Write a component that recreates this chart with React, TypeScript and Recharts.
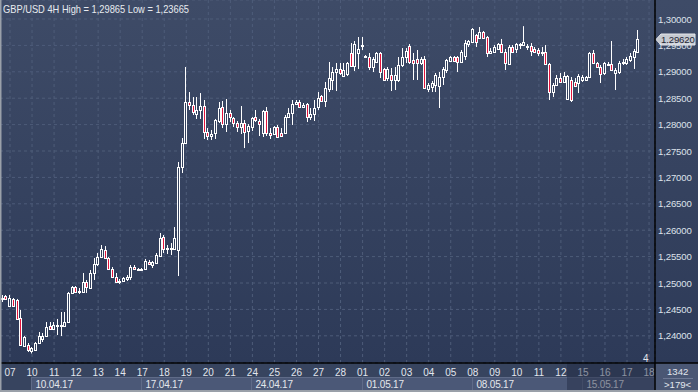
import React from 'react';
import { ComposedChart, Bar, XAxis, YAxis, CartesianGrid, ReferenceLine } from 'recharts';

const OPEN = [1.24716,1.24754,1.24564,1.24698,1.24678,1.24337,1.23807,1.23826,1.23712,1.23731,1.23864,1.2394,1.23996,1.24185,1.24129,1.24185,1.24185,1.24185,1.24261,1.24811,1.24924,1.2483,1.2483,1.25019,1.24905,1.25189,1.2536,1.25492,1.25625,1.25473,1.25266,1.25113,1.25019,1.25038,1.25076,1.25113,1.25303,1.25266,1.25246,1.25266,1.25398,1.25341,1.25379,1.25511,1.25871,1.25644,1.25662,1.25644,1.25625,1.27197,1.27651,1.28428,1.28371,1.28201,1.28277,1.28352,1.2786,1.27784,1.27841,1.28068,1.28333,1.28011,1.2822,1.28125,1.2803,1.27954,1.2803,1.27879,1.27954,1.28144,1.28068,1.27841,1.28258,1.27841,1.27822,1.27954,1.27841,1.27841,1.28144,1.2822,1.2839,1.28428,1.28333,1.2839,1.28144,1.28201,1.28333,1.28541,1.28447,1.28675,1.28845,1.28996,1.29054,1.2892,1.28958,1.29356,1.2911,1.29356,1.29507,1.29299,1.2928,1.29091,1.29186,1.29356,1.29054,1.28882,1.28939,1.28845,1.28845,1.29129,1.2928,1.29488,1.29224,1.29243,1.29167,1.29243,1.28675,1.28712,1.2875,1.28731,1.28901,1.29034,1.29205,1.2928,1.2928,1.29186,1.29299,1.29526,1.29564,1.29697,1.2964,1.29754,1.29659,1.29356,1.29375,1.29432,1.29526,1.29375,1.29148,1.2947,1.29432,1.29526,1.29507,1.29488,1.29488,1.29432,1.29413,1.29356,1.29375,1.29148,1.28617,1.2875,1.28882,1.28807,1.28485,1.28845,1.28807,1.28788,1.28845,1.28845,1.28901,1.29356,1.29167,1.29091,1.28977,1.29129,1.29148,1.28977,1.28996,1.29167,1.29167,1.29224,1.2928,1.29375];
const HIGH = [1.24773,1.24773,1.24773,1.24716,1.24698,1.24489,1.23996,1.23864,1.23788,1.23883,1.24072,1.24053,1.24261,1.24261,1.24261,1.24319,1.24451,1.24451,1.2483,1.24943,1.24943,1.24905,1.25189,1.25057,1.25246,1.25473,1.25568,1.25719,1.257,1.25492,1.25303,1.25189,1.25076,1.25113,1.25151,1.25341,1.25341,1.25284,1.25284,1.25455,1.25436,1.25417,1.25568,1.25947,1.25909,1.25719,1.25757,1.2606,1.27292,1.27746,1.29091,1.28617,1.28522,1.28522,1.28598,1.28466,1.27935,1.27898,1.28107,1.28428,1.28447,1.28485,1.28277,1.28144,1.28068,1.28352,1.28087,1.28011,1.28144,1.28277,1.28107,1.28277,1.28333,1.27935,1.27973,1.27993,1.27935,1.28182,1.28314,1.28466,1.28466,1.28466,1.28409,1.28409,1.28314,1.28466,1.28617,1.2856,1.28807,1.29186,1.29091,1.29167,1.29167,1.29167,1.29186,1.29545,1.29583,1.29659,1.29659,1.29318,1.29356,1.2928,1.29375,1.29375,1.29072,1.29091,1.29072,1.29091,1.2928,1.2945,1.2945,1.29526,1.29356,1.29413,1.2928,1.29299,1.28788,1.28826,1.28977,1.28996,1.29091,1.29243,1.29299,1.29299,1.29299,1.29413,1.29602,1.29602,1.29829,1.29716,1.29848,1.29773,1.29678,1.2945,1.29507,1.29545,1.29622,1.29432,1.29507,1.29507,1.29545,1.29545,1.29865,1.29526,1.29545,1.2947,1.2945,1.2947,1.29507,1.29167,1.28788,1.28939,1.28977,1.28996,1.28939,1.28901,1.28882,1.28958,1.28939,1.2892,1.29375,1.29413,1.29186,1.29129,1.29186,1.29186,1.29583,1.29072,1.29205,1.29243,1.2928,1.29356,1.29432,1.29792];
const LOW = [1.2464,1.24678,1.24545,1.24545,1.24299,1.23807,1.23788,1.23693,1.23665,1.23712,1.23845,1.23883,1.23977,1.2411,1.2411,1.24015,1.23996,1.24166,1.24242,1.24792,1.24811,1.24792,1.24811,1.24811,1.24887,1.25057,1.25322,1.25473,1.25455,1.25246,1.25094,1.25,1.24981,1.25019,1.25038,1.25057,1.25246,1.25227,1.25227,1.25284,1.25341,1.25284,1.2536,1.25492,1.25568,1.25549,1.2553,1.25625,1.25132,1.27083,1.27632,1.28277,1.28182,1.28107,1.28107,1.27728,1.27708,1.27708,1.27728,1.2803,1.27935,1.2786,1.28049,1.27954,1.2786,1.27822,1.27556,1.27651,1.27879,1.28049,1.27784,1.27765,1.27784,1.27728,1.27803,1.27746,1.27765,1.27822,1.28125,1.27993,1.28371,1.28314,1.28314,1.28049,1.28087,1.28068,1.28277,1.28428,1.28333,1.28617,1.28655,1.28636,1.28939,1.28901,1.2892,1.29091,1.29015,1.29054,1.29413,1.29261,1.29034,1.28996,1.29167,1.28882,1.28826,1.28826,1.28636,1.28655,1.28807,1.29091,1.29167,1.29148,1.28845,1.28845,1.29129,1.28675,1.28617,1.28617,1.28617,1.28314,1.2875,1.28977,1.29186,1.29186,1.28996,1.29167,1.29224,1.2947,1.29545,1.2947,1.29622,1.29622,1.2928,1.29337,1.29356,1.29413,1.29356,1.29034,1.29129,1.29356,1.29356,1.29432,1.29488,1.29413,1.29299,1.29356,1.29299,1.29299,1.29129,1.28466,1.28522,1.28731,1.28788,1.28788,1.28466,1.28428,1.28712,1.28598,1.28807,1.28826,1.28882,1.29148,1.29072,1.28788,1.28939,1.2911,1.29015,1.28655,1.28958,1.29129,1.29129,1.29186,1.29054,1.29356];
const CLOSE = [1.24698,1.24698,1.24716,1.24564,1.24319,1.23826,1.23977,1.23731,1.23769,1.23864,1.23996,1.23996,1.24166,1.24129,1.24204,1.24204,1.24204,1.24261,1.24811,1.24924,1.2483,1.24849,1.25019,1.24924,1.25189,1.2536,1.25492,1.25644,1.25473,1.25266,1.25113,1.25019,1.25038,1.25094,1.25113,1.25303,1.25266,1.25246,1.25266,1.25417,1.2536,1.25398,1.2553,1.25852,1.25644,1.25662,1.25644,1.25852,1.27197,1.27651,1.28428,1.28371,1.28239,1.28277,1.28352,1.2786,1.27784,1.27822,1.28087,1.28314,1.28011,1.2822,1.28144,1.2803,1.27954,1.2803,1.2786,1.27973,1.28125,1.28087,1.28011,1.28258,1.27841,1.27803,1.27954,1.27765,1.27784,1.28144,1.2822,1.2839,1.28428,1.28333,1.28371,1.28144,1.28201,1.28314,1.28503,1.28447,1.28693,1.28882,1.28996,1.29054,1.28977,1.29034,1.29167,1.2911,1.29526,1.29432,1.29488,1.2928,1.29091,1.29243,1.29356,1.28996,1.28845,1.29054,1.28845,1.28939,1.29129,1.2928,1.29394,1.29186,1.29167,1.29167,1.29243,1.28693,1.2875,1.28788,1.28939,1.28901,1.29054,1.29224,1.2928,1.29205,1.29186,1.29375,1.29545,1.29583,1.29811,1.29564,1.29754,1.2964,1.29356,1.29394,1.2947,1.29526,1.29375,1.29167,1.2947,1.29375,1.29526,1.29507,1.29564,1.2947,1.29394,1.29375,1.29356,1.29375,1.29148,1.28617,1.2875,1.28882,1.28807,1.2892,1.2892,1.28466,1.28731,1.2892,1.28901,1.28901,1.29356,1.29167,1.29091,1.28958,1.29167,1.29148,1.29034,1.29034,1.29167,1.29186,1.29243,1.29299,1.29394,1.2962];

const DAY_LABELS = ['07','10','11','12','13','14','17','18','19','20','21','24','25','26','27','28','01','02','03','04','05','08','09','10','11','12','15','16','17','18'];
const DAY_START = [2,8,14,20,26,32,38,44,50,56,62,68,74,80,86,92,98,104,110,116,122,128,134,140,146,152,158,164,170,176];
const WEEK_LABELS = ['10.04.17','17.04.17','24.04.17','01.05.17','08.05.17','15.05.17'];
const WEEK_START = [8,38,68,98,128,158];
const PRICE_TICKS = [1.24,1.245,1.25,1.255,1.26,1.265,1.27,1.275,1.28,1.285,1.29,1.295,1.3];
const LAST_PRICE = 1.2962;
const TITLE = 'GBP/USD 4H High = 1,29865 Low = 1,23665';

const W = 698, H = 392, PLOT_W = 655, PLOT_H = 363;
const X_DOMAIN: [number, number] = [-0.723, 177.62];
const Y_DOMAIN: [number, number] = [1.23485, 1.3036];
const SLOT = PLOT_W / (X_DOMAIN[1] - X_DOMAIN[0]);
const FONT = '"Liberation Sans", Arial, sans-serif';
const BULL_FILL = '#34415d';
const BEAR_FILL = '#e3143c';

const data = OPEN.map((o, i) => ({ i, open: o, high: HIGH[i], low: LOW[i], close: CLOSE[i] }));
const fmt = (v: number) => v.toFixed(5).replace('.', ',');

const Candle = (props: any) => {
  const { x, y, width, height, payload } = props;
  if (!payload) return null;
  const { open, close, high, low } = payload;
  const top = Math.min(y, y + height);
  const bot = Math.max(y, y + height);
  const span = high - low;
  const toY = (p: number) => (span === 0 ? top : top + ((high - p) / span) * (bot - top));
  const cx = Math.floor(x + width / 2) + 0.5;
  const yo = toY(open), yc = toY(close);
  const bTop = Math.round(Math.min(yo, yc));
  const bBot = Math.round(Math.max(yo, yc));
  const bull = close >= open;
  return (
    <g>
      <line x1={cx} x2={cx} y1={toY(high)} y2={bTop} stroke="#ffffff" strokeWidth={1} />
      <line x1={cx} x2={cx} y1={bBot} y2={toY(low)} stroke="#ffffff" strokeWidth={1} />
      {bBot - bTop < 1 ? (
        <line x1={cx - 1.5} x2={cx + 1.5} y1={bTop + 0.5} y2={bTop + 0.5} stroke="#ffffff" strokeWidth={1} />
      ) : (
        <rect x={cx - 1} y={bTop + 0.5} width={2} height={bBot - bTop} fill={bull ? BULL_FILL : BEAR_FILL} stroke="#ffffff" strokeWidth={1} />
      )}
    </g>
  );
};

const XTick = (props: any) => {
  const { x, y, payload } = props;
  const idx = payload.value;
  const k = DAY_START.indexOf(idx);
  const w = WEEK_START.indexOf(idx);
  let week = null;
  if (w >= 0) {
    const end = w + 1 < WEEK_START.length ? x + (WEEK_START[w + 1] - idx) * SLOT : PLOT_W;
    const x0 = Math.round(x) - 0.5;
    week = (
      <g>
        <rect x={x0} y={y + 14.5} width={Math.round(end) - Math.round(x)} height={13} fill="#4b5877" stroke="#5f6b88" strokeWidth={1} />
        <text x={x0 + 4} y={y + 25} fill="#e4e7ec" fontSize={10} fontFamily={FONT} style={{ letterSpacing: '-0.2px' }}>{WEEK_LABELS[w]}</text>
      </g>
    );
  }
  return (
    <g>
      {week}
      <text x={x} y={y + 12.5} textAnchor="middle" fill="#e2e6ee" fontSize={10} fontFamily={FONT}>{k >= 0 ? DAY_LABELS[k] : ''}</text>
    </g>
  );
};

const YTick = (props: any) => {
  const { x, y, payload } = props;
  return (
    <text x={x} y={y} dy={3.5} fill="#dde2ea" fontSize={9.6} fontFamily={FONT} style={{ letterSpacing: '-0.15px' }}>{fmt(payload.value)}</text>
  );
};

const PriceMarker = (props: any) => {
  const vb = props.viewBox || {};
  const yy = Math.round(vb.y) + 0.5;
  const x0 = vb.x + vb.width;
  return (
    <g>
      <path d={`M${x0 + 1},${yy} L${x0 + 6},${yy - 5.5} L${x0 + 40},${yy - 5.5} L${x0 + 40},${yy + 5.5} L${x0 + 6},${yy + 5.5} Z`} fill="#c6cad1" stroke="#e4e6ea" strokeWidth={1} />
      <text x={x0 + 6} y={yy + 3.5} fill="#1f2533" fontSize={9.6} fontFamily={FONT} style={{ letterSpacing: '-0.15px' }}>{fmt(LAST_PRICE)}</text>
    </g>
  );
};

export default function App() {
  return (
    <div style={{ position: 'absolute', left: 0, top: 0, width: W, height: H, overflow: 'hidden', background: `linear-gradient(180deg, #3e4b67 0px, #2d3a58 ${PLOT_H}px, #37445f ${PLOT_H}px, #37445f ${H}px)` }}>
      <svg width={W} height={H} style={{ position: 'absolute', left: 0, top: 0 }}>
        <rect x={PLOT_W} y={PLOT_H} width={W - PLOT_W} height={H - PLOT_H} fill="#4a5774" />
      </svg>
      <div style={{ position: 'absolute', left: 0, top: 0 }}>
        <ComposedChart width={W} height={H} data={data} margin={{ top: 0, right: 0, bottom: 0, left: 0 }}>
          <CartesianGrid stroke="#4e5c79" strokeDasharray="3 3" />
          <XAxis
            dataKey="i"
            type="number"
            domain={X_DOMAIN}
            allowDataOverflow
            ticks={DAY_START}
            interval={0}
            height={H - PLOT_H}
            tickSize={0}
            tickMargin={0}
            tick={<XTick />}
            axisLine={{ stroke: '#000000', strokeWidth: 1.5 }}
            tickLine={false}
          />
          <YAxis
            orientation="right"
            type="number"
            domain={Y_DOMAIN}
            allowDataOverflow
            ticks={PRICE_TICKS}
            interval={0}
            width={W - PLOT_W}
            tickSize={0}
            tickMargin={3}
            tick={<YTick />}
            axisLine={{ stroke: '#000000', strokeWidth: 1.5 }}
            tickLine={false}
          />
          <Bar dataKey={(d: any) => [d.low, d.high]} barSize={3} shape={<Candle />} isAnimationActive={false} />
          <ReferenceLine y={LAST_PRICE} stroke="transparent" label={<PriceMarker />} />
        </ComposedChart>
      </div>
      <svg width={W} height={H} style={{ position: 'absolute', left: 0, top: 0, pointerEvents: 'none' }}>
        <text x={3} y={12.5} fill="#e8ebf0" fontSize={11} fontFamily={FONT} textLength={186} lengthAdjust="spacingAndGlyphs">{TITLE}</text>
        <rect x={567} y={364} width={88} height={26} fill="#1e2740" opacity={0.45} />
        <line x1={PLOT_W} x2={W} y1={PLOT_H} y2={PLOT_H} stroke="#000" strokeWidth={1.5} />
        <line x1={PLOT_W} x2={PLOT_W} y1={PLOT_H} y2={H} stroke="#000" strokeWidth={1.5} />
        <text x={643} y={361.5} fill="#e6e9ee" fontSize={10} fontFamily={FONT}>4</text>
        <text x={667} y={375} fill="#e2e6ee" fontSize={9.6} fontFamily={FONT}>1342</text>
        <line x1={663} x2={693} y1={378.5} y2={378.5} stroke="#6e7994" strokeWidth={1} />
        <text x={664} y={387.5} fill="#e2e6ee" fontSize={9.6} fontFamily={FONT}>&gt;179&lt;</text>
        <rect x={0} y={0} width={1.5} height={H} fill="#9aa0a9" />
        <rect x={0} y={H - 2} width={W} height={2} fill="#9aa0a9" />
      </svg>
    </div>
  );
}
